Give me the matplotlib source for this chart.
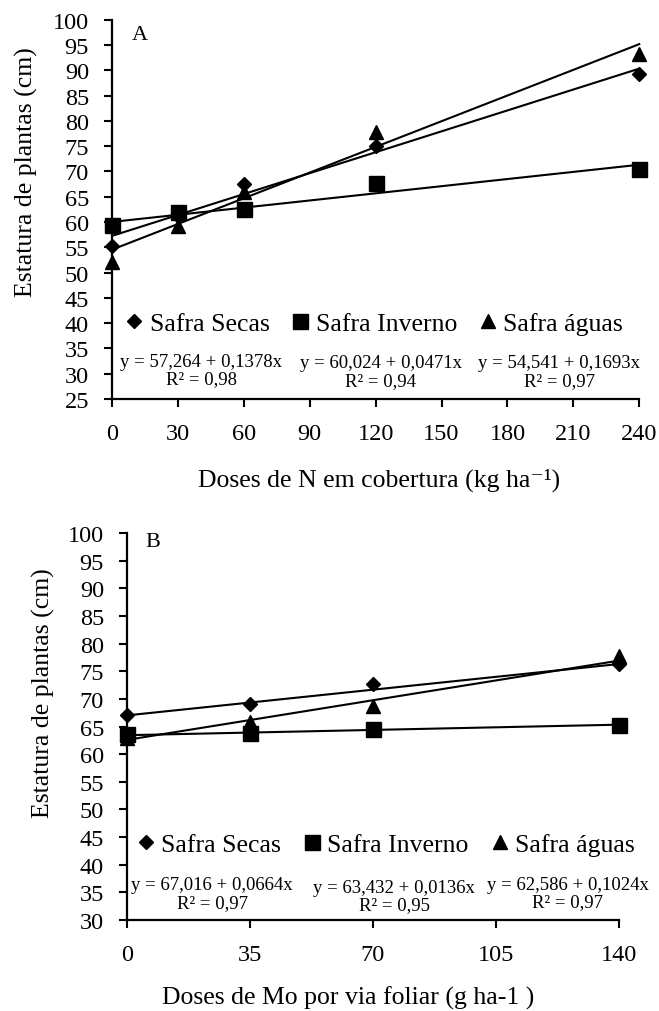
import matplotlib
matplotlib.use('Agg')
import matplotlib.pyplot as plt
import numpy as np

plt.rcParams['font.family'] = ['Liberation Serif', 'DejaVu Serif']

series = ['Safra Secas', 'Safra Inverno', 'Safra águas']

# panel A - doses de N
n_doses = [0, 30, 60, 120, 240]
n_secas = [55.3, 61.2, 67.5, 75.1, 89.3]
n_inverno = [59.4, 61.9, 62.6, 67.7, 70.5]
n_aguas = [52.1, 59.3, 66.0, 77.8, 93.2]
n_intercept = [57.264, 60.024, 54.541]
n_slope = [0.1378, 0.0471, 0.1693]
n_r2 = [0.98, 0.94, 0.97]
n_xticks = [0, 30, 60, 90, 120, 150, 180, 210, 240]

# panel B - doses de Mo
mo_doses = [0, 35, 70, 140]
mo_secas = [67.1, 69.0, 72.7, 76.3]
mo_inverno = [63.6, 63.8, 64.5, 65.3]
mo_aguas = [63.0, 65.9, 68.8, 77.7]
mo_intercept = [67.016, 63.432, 62.586]
mo_slope = [0.0664, 0.0136, 0.1024]
mo_r2 = [0.97, 0.95, 0.97]
mo_xticks = [0, 35, 70, 105, 140]

markers = ['D', 's', '^']
msizes = [7.0, 10.8, 10.5]


def comma(v, nd):
    return f'{v:.{nd}f}'.replace('.', ',')


def panel(ax, x, ys, a, b, r2, xticks, ylim, letter, letter_pos,
          xlabel, xlabel_pos, ylabel_pos, leg_pos, eq_pos):
    xs = np.array([xticks[0], xticks[-1]])
    handles = []
    for i in range(3):
        ax.plot(xs, a[i] + b[i] * xs, color='black', lw=1.5, clip_on=False, zorder=2)
        h, = ax.plot(x, ys[i], ls='none', marker=markers[i], ms=msizes[i],
                     color='black', clip_on=False, zorder=3, label=series[i])
        handles.append(h)
        txt = f'y = {comma(a[i], 3)} + {comma(b[i], 4)}x\nR² = {comma(r2[i], 2)}'
        ax.text(eq_pos[i][0], eq_pos[i][1], txt, transform=ax.transAxes,
                ha='center', va='center', fontsize=13.5, linespacing=1.05)
    ax.set_xlim(xticks[0], xticks[-1])
    ax.set_ylim(*ylim)
    ax.set_xticks(xticks)
    ax.set_yticks(np.arange(ylim[0], ylim[1] + 1, 5))
    for s in ['top', 'right']:
        ax.spines[s].set_visible(False)
    for s in ['left', 'bottom']:
        ax.spines[s].set_linewidth(1.6)
    ax.tick_params(axis='both', direction='out', length=5.5, width=1.5, labelsize=17.5)
    ax.tick_params(axis='y', pad=11)
    ax.tick_params(axis='x', pad=12)
    ax.set_ylabel('Estatura de plantas (cm)', fontsize=18.5, va='center')
    ax.yaxis.set_label_coords(*ylabel_pos)
    ax.set_xlabel(xlabel, fontsize=18.5, va='center')
    ax.xaxis.set_label_coords(*xlabel_pos)
    ax.text(letter_pos[0], letter_pos[1], letter, transform=ax.transAxes,
            ha='center', va='center', fontsize=16)
    ax.legend(handles=handles, ncol=3, loc='center', bbox_to_anchor=leg_pos,
              frameon=False, handlelength=0.7, handletextpad=0.25,
              columnspacing=0.85, fontsize=18.5, borderpad=0, borderaxespad=0)


fig = plt.figure(figsize=(6.59, 10.12), dpi=100)
ax1 = fig.add_axes([0.170, 0.6047, 0.800, 0.3748])
ax2 = fig.add_axes([0.1927, 0.0899, 0.7466, 0.3824])

panel(ax1, n_doses, [n_secas, n_inverno, n_aguas], n_intercept, n_slope, n_r2,
      n_xticks, (25, 100), 'A', (0.052, 0.962),
      'Doses de N em cobertura (kg ha⁻¹)', (0.507, -0.211), (-0.162, 0.60),
      (0.497, 0.198), [(0.169, 0.077), (0.510, 0.0725), (0.848, 0.0725)])

panel(ax2, mo_doses, [mo_secas, mo_inverno, mo_aguas], mo_intercept, mo_slope, mo_r2,
      mo_xticks, (30, 100), 'B', (0.053, 0.977),
      'Doses de Mo por via foliar (g ha-1 )', (0.449, -0.200), (-0.169, 0.589),
      (0.526, 0.196), [(0.173, 0.068), (0.543, 0.062), (0.896, 0.070)])

fig.savefig('out.png', dpi=100)
